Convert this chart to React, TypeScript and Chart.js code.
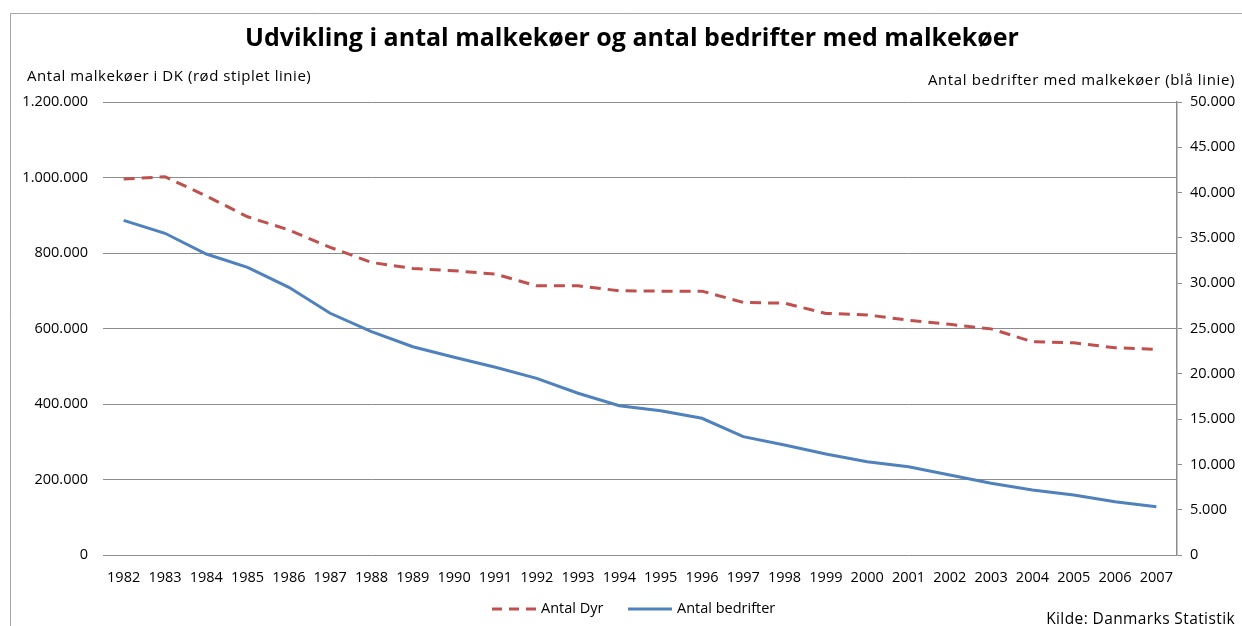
import React, { useEffect, useRef } from 'react';
import { Chart, registerables } from 'chart.js';

Chart.register(...registerables);

const years: string[] = [
  '1982', '1983', '1984', '1985', '1986', '1987', '1988', '1989', '1990', '1991', '1992', '1993', '1994',
  '1995', '1996', '1997', '1998', '1999', '2000', '2001', '2002', '2003', '2004', '2005', '2006', '2007',
];

// Antal malkekøer (left axis, red dashed)
const antalDyr: number[] = [
  996000, 1002000, 951000, 896000, 861000, 815000, 775000, 759000, 753000, 744000, 713000, 713000, 700000,
  699000, 699000, 669000, 667000, 640000, 636000, 622000, 611000, 599000, 565000, 562000, 549000, 545000,
];

// Antal bedrifter (right axis, blue)
const antalBedrifter: number[] = [
  36940, 35510, 33220, 31750, 29550, 26680, 24650, 22990, 21820, 20720, 19500, 17850, 16480,
  15930, 15090, 13060, 12140, 11150, 10300, 9750, 8830, 7910, 7170, 6620, 5880, 5330,
];

const leftTicks = { min: 0, max: 1200000, step: 200000 };
const rightTicks = { min: 0, max: 50000, step: 5000 };

const chartTitle = 'Udvikling i antal malkekøer og antal bedrifter med malkekøer';
const leftAxisTitle = 'Antal malkekøer i DK (rød stiplet linie)';
const rightAxisTitle = 'Antal bedrifter med malkekøer (blå linie)';
const sourceText = 'Kilde: Danmarks Statistik';
const seriesNames: string[] = ['Antal Dyr', 'Antal bedrifter'];

const FONT = "'Open Sans', Lato, sans-serif";
const RED = '#C0504D';
const BLUE = '#4F81BD';
const GRID = '#8C8C8C';

const fmt = (v: number) => String(Math.round(v)).replace(/\B(?=(\d{3})+(?!\d))/g, '.');

const overlayPlugin = {
  id: 'overlay',
  beforeDraw(chart: any) {
    const ctx = chart.ctx;
    ctx.save();
    ctx.strokeStyle = '#A6A6A6';
    ctx.lineWidth = 1;
    ctx.beginPath();
    ctx.moveTo(10.5, chart.height);
    ctx.lineTo(10.5, 13.5);
    ctx.lineTo(chart.width, 13.5);
    ctx.stroke();
    ctx.restore();
  },
  afterDraw(chart: any) {
    const ctx = chart.ctx;
    ctx.save();
    ctx.fillStyle = '#000';
    ctx.textBaseline = 'middle';
    ctx.font = `bold 25px ${FONT}`;
    ctx.textAlign = 'center';
    ctx.fillText(chartTitle, 632, 39);

    ctx.font = `15px ${FONT}`;
    (ctx as any).letterSpacing = '0.55px';
    ctx.textAlign = 'left';
    ctx.fillText(leftAxisTitle, 27, 77);
    (ctx as any).letterSpacing = '0.62px';
    ctx.textAlign = 'right';
    ctx.fillText(rightAxisTitle, 1235, 81);
    (ctx as any).letterSpacing = '0.4px';
    ctx.font = `15.5px ${FONT}`;
    ctx.fillText(sourceText, 1235, 620);
    (ctx as any).letterSpacing = '0px';

    // legend (built from the datasets)
    const legendY = 609;
    const items = [
      { x: 492, ds: chart.data.datasets[0] },
      { x: 628, ds: chart.data.datasets[1] },
    ];
    ctx.font = `14.5px ${FONT}`;
    ctx.textAlign = 'left';
    for (const it of items) {
      ctx.save();
      ctx.strokeStyle = it.ds.borderColor;
      ctx.lineWidth = it.ds.borderWidth;
      ctx.setLineDash(it.ds.borderDash ? [10, 7] : []);
      ctx.beginPath();
      ctx.moveTo(it.x, legendY);
      ctx.lineTo(it.x + 44, legendY);
      ctx.stroke();
      ctx.restore();
      ctx.fillText(it.ds.label, it.x + 49, legendY);
    }
    ctx.restore();
  },
};

export default function App() {
  const canvasRef = useRef<HTMLCanvasElement | null>(null);

  useEffect(() => {
    if (!canvasRef.current) return;
    const chart = new Chart(canvasRef.current, {
      type: 'line',
      data: {
        labels: years,
        datasets: [
          {
            label: seriesNames[0],
            data: antalDyr,
            yAxisID: 'y',
            borderColor: RED,
            backgroundColor: RED,
            borderWidth: 3,
            borderDash: [11, 7],
            pointRadius: 0,
            tension: 0,
            fill: false,
          },
          {
            label: seriesNames[1],
            data: antalBedrifter,
            yAxisID: 'y1',
            borderColor: BLUE,
            backgroundColor: BLUE,
            borderWidth: 3,
            pointRadius: 0,
            tension: 0,
            fill: false,
          },
        ],
      },
      options: {
        animation: false,
        responsive: false,
        layout: { padding: { left: 0, right: 0, top: 102, bottom: 0 } },
        plugins: {
          title: { display: false },
          tooltip: { enabled: false },
          legend: { display: false },
        },
        scales: {
          x: {
            type: 'category',
            offset: true,
            grid: { display: false },
            border: { display: false },
            ticks: {
              color: '#000',
              font: { family: FONT, size: 14.5 },
              padding: 6,
              maxRotation: 0,
              autoSkip: false,
            },
            afterFit: (s: any) => { s.height = 71; },
          },
          y: {
            position: 'left',
            min: leftTicks.min,
            max: leftTicks.max,
            grid: { color: GRID, lineWidth: 1, drawTicks: false },
            border: { display: false },
            ticks: {
              stepSize: leftTicks.step,
              padding: 15,
              color: '#000',
              font: { family: FONT, size: 14.5 },
              callback: (v: any) => fmt(Number(v)),
            },
            afterFit: (s: any) => { s.width = 103; },
          },
          y1: {
            position: 'right',
            min: rightTicks.min,
            max: rightTicks.max,
            grid: { drawOnChartArea: false, drawTicks: true, tickLength: 5, color: GRID },
            border: { display: true, color: GRID, width: 1.5 },
            ticks: {
              stepSize: rightTicks.step,
              padding: 8,
              color: '#000',
              font: { family: FONT, size: 14.5 },
              callback: (v: any) => fmt(Number(v)),
            },
            afterFit: (s: any) => { s.width = 65; },
          },
        },
      },
      plugins: [overlayPlugin],
    });
    return () => chart.destroy();
  }, []);

  return (
    <div style={{ position: 'absolute', left: 0, top: 0, width: 1242, height: 626, background: '#fff' }}>
      <canvas ref={canvasRef} width={1242} height={626} style={{ display: 'block' }} />
    </div>
  );
}
